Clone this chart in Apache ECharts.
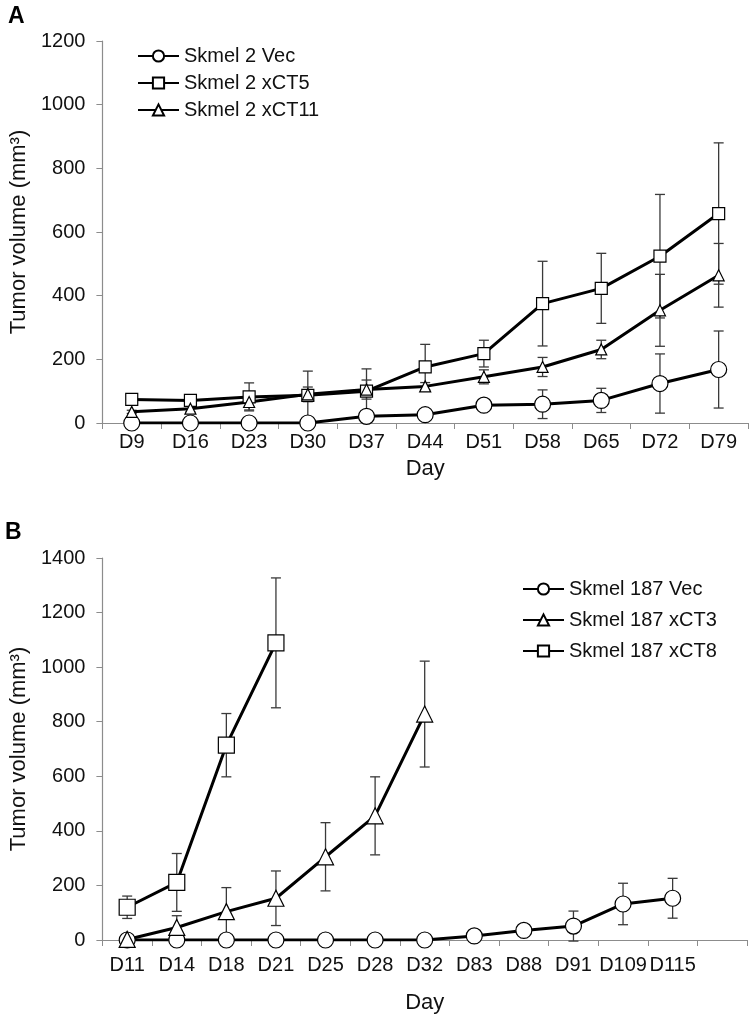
<!DOCTYPE html>
<html>
<head>
<meta charset="utf-8">
<script src="https://cdn.jsdelivr.net/npm/echarts@6/dist/echarts.min.js"></script>
<style>
html,body{margin:0;padding:0;background:#fff;}
#chart{width:750px;height:1019px;}
</style>
</head>
<body>
<div id="chart"></div>
<script>
// ---- Panel A data ----
const daysA = ['D9','D16','D23','D30','D37','D44','D51','D58','D65','D72','D79'];
const vecA = [0,0,0,0,21,26,56,59,71,124,168];
const vecAErr = [0,0,0,0,0,0,10,45,38,93,121];
const ct5A = [74,71,82,87,100,176,218,375,423,524,658];
const ct5AErr = [8,15,44,76,70,71,42,133,110,194,222];
const ct11A = [35,45,66,90,105,115,145,176,231,354,464];
const ct11AErr = [5,10,25,23,30,12,22,30,29,113,100];
const yTicksA = [0,200,400,600,800,1000,1200];

// ---- Panel B data ----
const daysB = ['D11','D14','D18','D21','D25','D28','D32','D83','D88','D91','D109','D115',''];
const vecB = [0,0,0,0,0,0,0,15,35,51,132,153];
const vecBErr = [0,0,0,0,0,0,0,0,0,55,76,73];
const ct3B = [2,46,104,153,305,455,828];
const ct3BErr = [0,43,88,100,125,143,194];
const ct8B = [120,211,714,1089];
const ct8BErr = [41,106,116,238];
const yTicksB = [0,200,400,600,800,1000,1200,1400];

const FONT = 'Liberation Sans, Arial, sans-serif';

function errData(vals, errs){
  const out = [];
  vals.forEach((v,i)=>{ if(errs[i]>0) out.push([i, v-errs[i], v+errs[i]]); });
  return out;
}
function renderErr(params, api){
  const x = api.value(0);
  const lo = api.coord([x, api.value(1)]);
  const hi = api.coord([x, api.value(2)]);
  const w = 5;
  const st = {stroke:'#3a3a3a', lineWidth:1.3};
  return {type:'group', children:[
    {type:'line', shape:{x1:lo[0],y1:lo[1],x2:hi[0],y2:hi[1]}, style:st},
    {type:'line', shape:{x1:hi[0]-w,y1:hi[1],x2:hi[0]+w,y2:hi[1]}, style:st},
    {type:'line', shape:{x1:lo[0]-w,y1:lo[1],x2:lo[0]+w,y2:lo[1]}, style:st}
  ]};
}
function errSeries(vals, errs, idx){
  return {type:'custom', xAxisIndex:idx, yAxisIndex:idx, renderItem:renderErr,
    data:errData(vals, errs), encode:{x:0,y:[1,2]}, z:1, silent:true};
}
function lineSeries(name, vals, idx, symbol, size){
  return {name:name, type:'line', xAxisIndex:idx, yAxisIndex:idx, data:vals,
    symbol:symbol, symbolSize:size, showAllSymbol:true, z:3,
    lineStyle:{color:'#000', width:3},
    itemStyle:{color:'#fff', borderColor:'#000', borderWidth:1.2}};
}

const axisLineStyle = {lineStyle:{color:'#8c8c8c', width:1.2}};
function xAxis(idx, cats, gap, margin){
  return {type:'category', gridIndex:idx, data:cats, boundaryGap:true,
    axisLine:axisLineStyle, axisTick:{show:true, length:6, lineStyle:{color:'#8c8c8c'}, alignWithLabel:false},
    axisLabel:{interval:0, color:'#111', fontFamily:FONT, fontSize:20, margin:margin},
    name:'Day', nameLocation:'middle', nameGap:gap,
    nameTextStyle:{color:'#111', fontFamily:FONT, fontSize:22}};
}
function yAxis(idx, ticks){
  return {type:'value', gridIndex:idx, min:ticks[0], max:ticks[ticks.length-1], interval:ticks[1]-ticks[0],
    axisLine:{show:true, ...axisLineStyle}, axisTick:{show:true, length:6, lineStyle:{color:'#8c8c8c'}},
    splitLine:{show:false},
    axisLabel:{color:'#111', fontFamily:FONT, fontSize:20, margin:17, formatter:(v)=>String(v)},
    name:'Tumor volume (mm³)', nameLocation:'middle', nameGap:56,
    nameTextStyle:{color:'#111', fontFamily:FONT, fontSize:22}};
}

const chart = echarts.init(document.getElementById('chart'), null, {renderer:'canvas'});
chart.setOption({
  animation:false,
  backgroundColor:'#fff',
  textStyle:{fontFamily:FONT},
  grid:[
    {left:98, top:41, width:650, height:382},
    {left:98, top:558, width:649, height:382}
  ],
  xAxis:[xAxis(0, daysA, 35, 9), xAxis(1, daysB, 52, 15)],
  yAxis:[yAxis(0, yTicksA), yAxis(1, yTicksB)],
  legend:[
    {data:['Skmel 2 Vec','Skmel 2 xCT5','Skmel 2 xCT11'], orient:'vertical', left:132, top:41,
     itemWidth:41, itemHeight:14, itemGap:7,
     textStyle:{fontFamily:FONT, fontSize:20, color:'#111'}},
    {data:['Skmel 187 Vec','Skmel 187 xCT3','Skmel 187 xCT8'], orient:'vertical', left:517, top:574,
     itemWidth:41, itemHeight:14, itemGap:11,
     textStyle:{fontFamily:FONT, fontSize:20, color:'#111'}}
  ],
  graphic:[
    {type:'text', left:8, top:5, style:{text:'A', fontFamily:FONT, fontWeight:'bold', fontSize:23, fill:'#000'}},
    {type:'text', left:5, top:521, style:{text:'B', fontFamily:FONT, fontWeight:'bold', fontSize:23, fill:'#000'}}
  ],
  series:[
    errSeries(vecA, vecAErr, 0),
    errSeries(ct5A, ct5AErr, 0),
    errSeries(ct11A, ct11AErr, 0),
    lineSeries('Skmel 2 Vec', vecA, 0, 'circle', 16),
    lineSeries('Skmel 2 xCT5', ct5A, 0, 'rect', 12),
    lineSeries('Skmel 2 xCT11', ct11A, 0, 'triangle', 11),
    errSeries(vecB, vecBErr, 1),
    errSeries(ct3B, ct3BErr, 1),
    errSeries(ct8B, ct8BErr, 1),
    lineSeries('Skmel 187 Vec', vecB, 1, 'circle', 16),
    lineSeries('Skmel 187 xCT3', ct3B, 1, 'triangle', 16),
    lineSeries('Skmel 187 xCT8', ct8B, 1, 'rect', 16)
  ]
});
</script>
</body>
</html>
